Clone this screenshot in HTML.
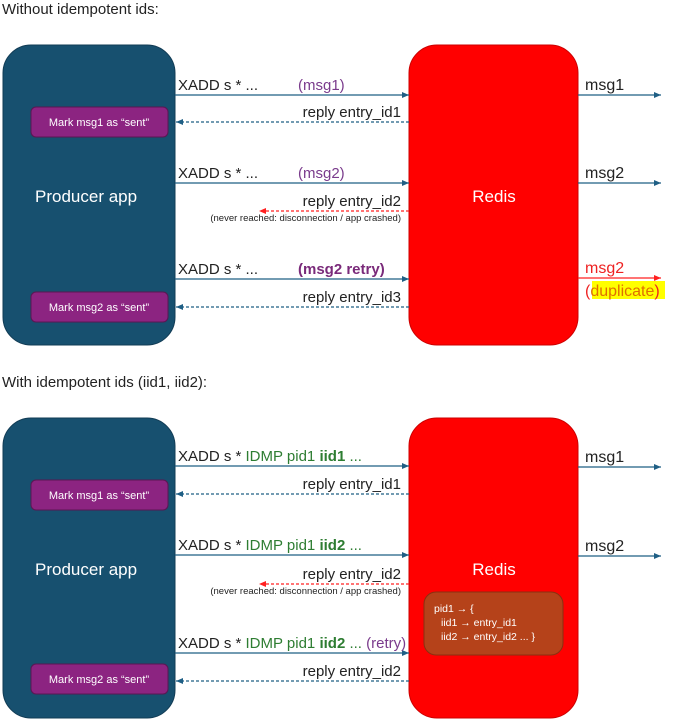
<!DOCTYPE html>
<html><head><meta charset="utf-8"><style>
body{margin:0;background:#fff}
svg{display:block;font-family:"Liberation Sans",sans-serif}
</style></head><body>
<svg width="673" height="722" viewBox="0 0 673 722" xmlns="http://www.w3.org/2000/svg">
<defs>
<marker id="ab" markerWidth="8" markerHeight="8" refX="7" refY="4" orient="auto" markerUnits="userSpaceOnUse"><path d="M0,1 L7,4 L0,7 Z" fill="#1f5f85"/></marker>
<marker id="ar" markerWidth="8" markerHeight="8" refX="7" refY="4" orient="auto" markerUnits="userSpaceOnUse"><path d="M0,1 L7,4 L0,7 Z" fill="#ff2020"/></marker>
</defs>
<g font-size="15" fill="#222">
<text x="2" y="14">Without idempotent ids:</text>
<text x="2" y="387">With idempotent ids (iid1, iid2):</text>
</g>

<!-- TOP -->
<rect x="3" y="45" width="172" height="300" rx="28" fill="#17506f" stroke="#123c55"/>
<rect x="409" y="45" width="169" height="300" rx="28" fill="#ff0000" stroke="#c00"/>
<text x="35" y="202" font-size="17" fill="#fff">Producer app</text>
<text x="494" y="202" font-size="17" fill="#fff" text-anchor="middle">Redis</text>
<rect x="31" y="107" width="137" height="30" rx="5" fill="#8c2481" stroke="#5a1652"/>
<text x="99" y="126" font-size="11" fill="#fff" text-anchor="middle">Mark msg1 as “sent”</text>
<rect x="31" y="292" width="137" height="30" rx="5" fill="#8c2481" stroke="#5a1652"/>
<text x="99" y="311" font-size="11" fill="#fff" text-anchor="middle">Mark msg2 as “sent”</text>

<g stroke="#1f5f85" stroke-width="1.3">
<line x1="175" y1="95" x2="409" y2="95" marker-end="url(#ab)"/>
<line x1="409" y1="122" x2="176" y2="122" stroke-dasharray="3,2" marker-end="url(#ab)"/>
<line x1="175" y1="183" x2="409" y2="183" marker-end="url(#ab)"/>
<line x1="175" y1="279" x2="409" y2="279" marker-end="url(#ab)"/>
<line x1="409" y1="307" x2="176" y2="307" stroke-dasharray="3,2" marker-end="url(#ab)"/>
<line x1="578" y1="95" x2="661" y2="95" marker-end="url(#ab)"/>
<line x1="578" y1="183" x2="661" y2="183" marker-end="url(#ab)"/>
</g>
<line x1="409" y1="211" x2="259" y2="211" stroke="#ff2020" stroke-width="1.3" stroke-dasharray="3,2" marker-end="url(#ar)"/>
<line x1="578" y1="278" x2="661" y2="278" stroke="#ff2020" stroke-width="1.3" marker-end="url(#ar)"/>

<g font-size="15" fill="#222">
<text x="178" y="90">XADD s * ...</text>
<text x="298" y="90" fill="#7a3b8c">(msg1)</text>
<text x="401" y="117" text-anchor="end">reply entry_id1</text>
<text x="178" y="178">XADD s * ...</text>
<text x="298" y="178" fill="#7a3b8c">(msg2)</text>
<text x="401" y="206" text-anchor="end">reply entry_id2</text>
<text x="401" y="221" text-anchor="end" font-size="9.5">(never reached: disconnection / app crashed)</text>
<text x="178" y="274">XADD s * ...</text>
<text x="298" y="274" fill="#7a2a7a" font-weight="bold">(msg2 retry)</text>
<text x="401" y="302" text-anchor="end">reply entry_id3</text>
<text x="585" y="90" font-size="16">msg1</text>
<text x="585" y="178" font-size="16">msg2</text>
<text x="585" y="273" font-size="16" fill="#ee2222">msg2</text>
<rect x="592" y="281" width="73" height="18" fill="#ffff00"/>
<text x="585" y="296" font-size="16" fill="#ee2222">(<tspan fill="#e07000">duplicate</tspan>)</text>
</g>

<!-- BOTTOM -->
<rect x="3" y="418" width="172" height="300" rx="28" fill="#17506f" stroke="#123c55"/>
<rect x="409" y="418" width="169" height="300" rx="28" fill="#ff0000" stroke="#c00"/>
<text x="35" y="575" font-size="17" fill="#fff">Producer app</text>
<text x="494" y="575" font-size="17" fill="#fff" text-anchor="middle">Redis</text>
<rect x="31" y="480" width="137" height="30" rx="5" fill="#8c2481" stroke="#5a1652"/>
<text x="99" y="499" font-size="11" fill="#fff" text-anchor="middle">Mark msg1 as “sent”</text>
<rect x="31" y="664" width="137" height="30" rx="5" fill="#8c2481" stroke="#5a1652"/>
<text x="99" y="683" font-size="11" fill="#fff" text-anchor="middle">Mark msg2 as “sent”</text>
<rect x="424" y="592" width="139" height="63" rx="12" fill="#b5421a" stroke="#8a3010"/>
<g font-size="10.5" fill="#fff">
<text x="434" y="612">pid1 → {</text>
<text x="441" y="626">iid1 → entry_id1</text>
<text x="441" y="640">iid2 → entry_id2 ... }</text>
</g>

<g stroke="#1f5f85" stroke-width="1.3">
<line x1="175" y1="466" x2="409" y2="466" marker-end="url(#ab)"/>
<line x1="409" y1="494" x2="176" y2="494" stroke-dasharray="3,2" marker-end="url(#ab)"/>
<line x1="175" y1="555" x2="409" y2="555" marker-end="url(#ab)"/>
<line x1="175" y1="653" x2="409" y2="653" marker-end="url(#ab)"/>
<line x1="409" y1="681" x2="176" y2="681" stroke-dasharray="3,2" marker-end="url(#ab)"/>
<line x1="578" y1="467" x2="661" y2="467" marker-end="url(#ab)"/>
<line x1="578" y1="556" x2="661" y2="556" marker-end="url(#ab)"/>
</g>
<line x1="409" y1="584" x2="259" y2="584" stroke="#ff2020" stroke-width="1.3" stroke-dasharray="3,2" marker-end="url(#ar)"/>

<g font-size="15" fill="#222">
<text x="178" y="461">XADD s * <tspan fill="#2e7d32">IDMP pid1 <tspan font-weight="bold">iid1</tspan> ...</tspan></text>
<text x="401" y="489" text-anchor="end">reply entry_id1</text>
<text x="178" y="550">XADD s * <tspan fill="#2e7d32">IDMP pid1 <tspan font-weight="bold">iid2</tspan> ...</tspan></text>
<text x="401" y="579" text-anchor="end">reply entry_id2</text>
<text x="401" y="594" text-anchor="end" font-size="9.5">(never reached: disconnection / app crashed)</text>
<text x="178" y="648">XADD s * <tspan fill="#2e7d32">IDMP pid1 <tspan font-weight="bold">iid2</tspan> ...</tspan> <tspan fill="#7a3b8c">(retry)</tspan></text>
<text x="401" y="676" text-anchor="end">reply entry_id2</text>
<text x="585" y="462" font-size="16">msg1</text>
<text x="585" y="551" font-size="16">msg2</text>
</g>
</svg>
</body></html>
